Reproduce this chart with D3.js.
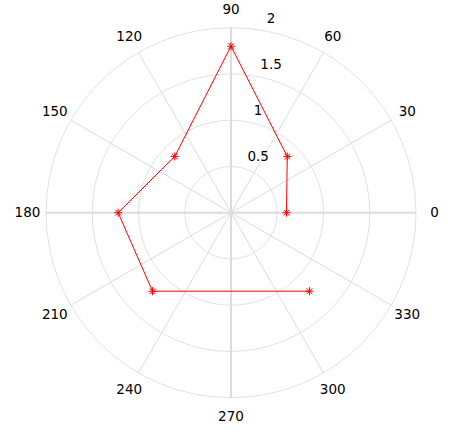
<!DOCTYPE html>
<html>
<head>
<meta charset="utf-8">
<script src="https://cdn.jsdelivr.net/npm/d3@7"></script>
<style>
  body { margin: 0; background: #fff; }
  text { font-family: "DejaVu Sans", sans-serif; font-size: 13.5px; fill: #000; }
</style>
</head>
<body>
<div id="chart"></div>
<script>
// datos del grafico polar
var angulos = [0, 45, 90, 135, 180, 225, 315];
var radios = [0.6, 0.86, 1.8, 0.86, 1.22, 1.2, 1.2];
var anillos = [0.5, 1, 1.5, 2];
var etiquetasAngulo = [0, 30, 60, 90, 120, 150, 180, 210, 240, 270, 300, 330];

var width = 456, height = 430;
var cx = 231, cy = 212.7;

var svg = d3.select("#chart").append("svg")
    .attr("width", width)
    .attr("height", height);

var r = d3.scaleLinear().domain([0, 2]).range([0, 185]);
var rad = function(a) { return a * Math.PI / 180; };

var g = svg.append("g").attr("transform", "translate(" + cx + "," + cy + ")");

// circulos
g.selectAll("circle.anillo")
    .data(anillos)
    .enter().append("circle")
    .attr("r", function(d) { return r(d); })
    .style("fill", "none")
    .style("stroke", "#e2e2e2")
    .style("stroke-width", 1);

// radios (spokes) cada 30 grados
g.selectAll("line.spoke")
    .data(d3.range(0, 180, 30))
    .enter().append("line")
    .attr("x1", function(d) { return r(2) * Math.cos(rad(d)); })
    .attr("y1", function(d) { return -r(2) * Math.sin(rad(d)); })
    .attr("x2", function(d) { return -r(2) * Math.cos(rad(d)); })
    .attr("y2", function(d) { return r(2) * Math.sin(rad(d)); })
    .style("stroke", "#dcdcdc")
    .style("stroke-width", function(d) { return d % 90 == 0 ? 2 : 1; });

// etiquetas de angulo
g.selectAll("text.ang")
    .data(etiquetasAngulo)
    .enter().append("text")
    .attr("x", function(d) { return r(2) * 1.1 * Math.cos(rad(d)); })
    .attr("y", function(d) { return -r(2) * 1.1 * Math.sin(rad(d)); })
    .attr("text-anchor", "middle")
    .attr("dy", "0.35em")
    .text(function(d) { return d; });

// etiquetas de radio (a 82 grados)
g.selectAll("text.rad")
    .data(anillos)
    .enter().append("text")
    .attr("x", function(d) { return r(d) * Math.cos(rad(82)) + 10; })
    .attr("y", function(d) { return -r(d) * Math.sin(rad(82)) - 11; })
    .attr("dy", "0.35em")
    .text(function(d) { return d; });

// linea de datos
var puntos = angulos.map(function(a, i) {
    return [r(radios[i]) * Math.cos(rad(a)), -r(radios[i]) * Math.sin(rad(a))];
});

g.append("path")
    .attr("d", d3.line()(puntos))
    .style("fill", "none")
    .style("stroke", "#ff0000")
    .style("stroke-width", 1);

// marcadores asterisco
var s = 4;
var asterisco = "M" + (-s) + ",0L" + s + ",0M0," + (-s) + "L0," + s +
    "M" + (-s * 0.7) + "," + (-s * 0.7) + "L" + (s * 0.7) + "," + (s * 0.7) +
    "M" + (-s * 0.7) + "," + (s * 0.7) + "L" + (s * 0.7) + "," + (-s * 0.7);

g.selectAll("path.marca")
    .data(puntos)
    .enter().append("path")
    .attr("transform", function(d) { return "translate(" + d[0] + "," + d[1] + ")"; })
    .attr("d", asterisco)
    .style("fill", "none")
    .style("stroke", "#ff0000")
    .style("stroke-width", 1);
</script>
</body>
</html>
